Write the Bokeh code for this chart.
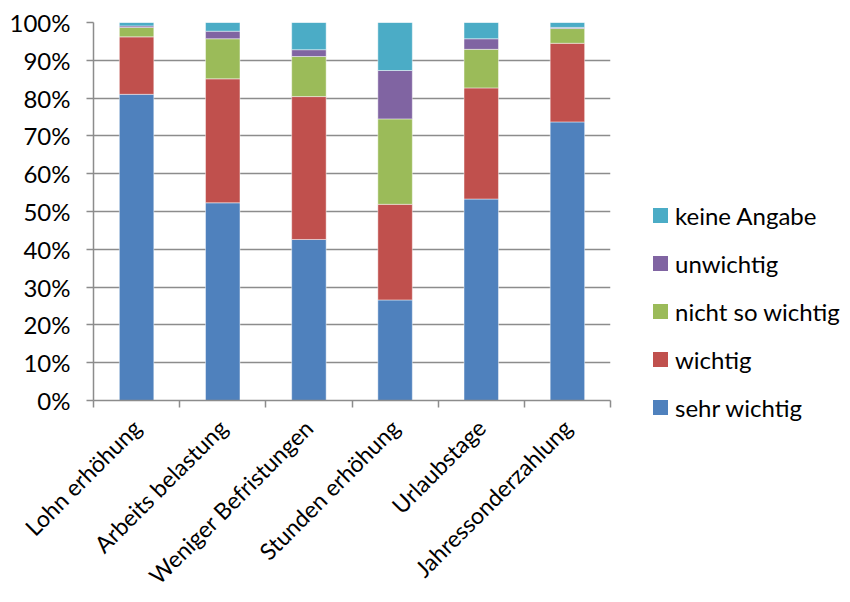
import math
from bokeh.plotting import figure
from bokeh.layouts import row
from bokeh.models import (ColumnDataSource, Range1d, FixedTicker, Div,
                          PrintfTickFormatter)
from bokeh.embed import file_html
from bokeh.resources import INLINE

categories = ["Lohn erhöhung", "Arbeits belastung", "Weniger Befristungen",
              "Stunden erhöhung", "Urlaubstage", "Jahressonderzahlung"]
sehr_wichtig = [81.0, 52.3, 42.6, 26.6, 53.3, 73.7]
wichtig = [15.2, 32.8, 37.8, 25.3, 29.4, 20.8]
nicht_so_wichtig = [2.5, 10.6, 10.6, 22.6, 10.2, 3.9]
unwichtig = [0.4, 2.0, 1.8, 12.8, 2.8, 0.3]
keine_angabe = [0.9, 2.3, 7.2, 12.7, 4.3, 1.3]
series_names = ["sehr wichtig", "wichtig", "nicht so wichtig", "unwichtig", "keine Angabe"]
series_keys = ["sehr", "wichtig", "nicht", "unw", "keine"]
colors = ["#4F81BD", "#C0504D", "#9BBB59", "#8064A2", "#4BACC6"]
y_ticks = list(range(0, 101, 10))

FONT = "Lato"
FS = "24px"
GRID = "#8C8C8C"

xs = [i + 0.5 for i in range(len(categories))]
source = ColumnDataSource(dict(x=xs, sehr=sehr_wichtig, wichtig=wichtig,
                               nicht=nicht_so_wichtig, unw=unwichtig, keine=keine_angabe))

p = figure(width=612, height=602, output_backend="svg", toolbar_location=None,
           x_range=Range1d(0, len(categories)), y_range=Range1d(0, 100),
           min_border_left=93, min_border_top=22, min_border_bottom=197,
           min_border_right=2)
p.outline_line_color = None
p.margin = 0

renderers = p.vbar_stack(series_keys, x="x", width=0.4, source=source,
                         fill_color=colors, line_color="white", line_alpha=0.45,
                         line_width=1)

# axes
xa = p.xaxis[0]
xa.ticker = FixedTicker(ticks=xs, minor_ticks=list(range(len(categories) + 1)))
xa.major_label_overrides = {x: c for x, c in zip(xs, categories)}
xa.major_label_orientation = math.pi / 4
xa.major_tick_line_color = None
xa.minor_tick_line_color = GRID
xa.minor_tick_out = 7
xa.minor_tick_in = 0
xa.minor_tick_line_width = 1.5
xa.axis_line_color = GRID
xa.axis_line_width = 1.5
xa.major_label_text_font = FONT
xa.major_label_text_font_size = "23px"
xa.major_label_text_line_height = 1.0
xa.major_label_text_color = "black"
xa.major_label_standoff = 16

ya = p.yaxis[0]
ya.ticker = FixedTicker(ticks=y_ticks)
ya.formatter = PrintfTickFormatter(format="%d%%")
ya.major_tick_out = 7
ya.major_tick_in = 0
ya.major_tick_line_color = GRID
ya.major_tick_line_width = 1.5
ya.minor_tick_line_color = None
ya.axis_line_color = GRID
ya.axis_line_width = 1.5
ya.major_label_text_font = FONT
ya.major_label_text_font_size = FS
ya.major_label_text_color = "black"
ya.major_label_standoff = 16

p.xgrid.grid_line_color = None
p.ygrid.grid_line_color = GRID
p.ygrid.grid_line_width = 1.5
p.ygrid.ticker = FixedTicker(ticks=y_ticks)

# legend (reversed order, top = last series), built from the series lists
rows_html = []
for i, (name, col) in enumerate(reversed(list(zip(series_names, colors)))):
    top = 191.5 + i * 48.1
    rows_html.append(
        f'<div style="position:absolute;left:41px;top:{top:.1f}px;height:48px;'
        f'display:flex;align-items:center;white-space:nowrap;">'
        f'<span style="display:inline-block;width:15px;height:15px;'
        f'background:{col};margin-right:7px;"></span>'
        f'<span style="font-family:Lato;font-size:{FS};color:black;'
        f'line-height:28px;">{name}</span></div>')
legend_html = ('<div style="position:relative;width:238px;height:602px;">'
               + "".join(rows_html) + '</div>')
legend_div = Div(text=legend_html, width=238, height=602, margin=0)

layout = row(p, legend_div)
open("out.html", "w").write(file_html(layout, INLINE))
